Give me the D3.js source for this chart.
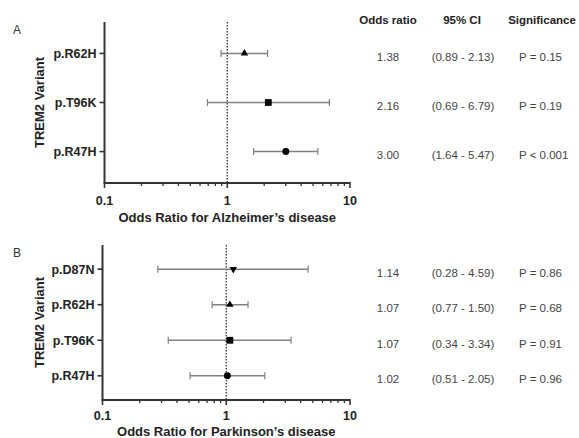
<!DOCTYPE html>
<html>
<head>
<meta charset="utf-8">
<script src="https://cdn.jsdelivr.net/npm/d3@7"></script>
<style>
  body { margin: 0; background: #fff; }
  text { font-family: "Liberation Sans", Arial, sans-serif; }
</style>
</head>
<body>
<div id="plot"></div>
<script>
// panel A - Alzheimer's
var adVariants = ["p.R62H", "p.T96K", "p.R47H"]
var adOR = [1.38, 2.16, 3.00]
var adLow = [0.89, 0.69, 1.64]
var adHigh = [2.13, 6.79, 5.47]
var adP = ["P = 0.15", "P = 0.19", "P < 0.001"]
var adShapes = ["triangle", "square", "circle"]

// panel B - Parkinson's
var pdVariants = ["p.D87N", "p.R62H", "p.T96K", "p.R47H"]
var pdOR = [1.14, 1.07, 1.07, 1.02]
var pdLow = [0.28, 0.77, 0.34, 0.51]
var pdHigh = [4.59, 1.50, 3.34, 2.05]
var pdP = ["P = 0.86", "P = 0.68", "P = 0.91", "P = 0.96"]
var pdShapes = ["triangleDown", "triangle", "square", "circle"]

var xTicks = [0.1, 1, 10]
var headers = ["Odds ratio", "95% CI", "Significance"]

var svg = d3.select("#plot").append("svg")
	.attr("width", 579)
	.attr("height", 438)

function symbolFor(name, size){
	if(name === "triangle" || name === "triangleDown") return d3.symbol().type(d3.symbolTriangle).size(size)()
	if(name === "square") return d3.symbol().type(d3.symbolSquare).size(size)()
	return d3.symbol().type(d3.symbolCircle).size(size)()
}

function drawPanel(opt){
	var g = svg.append("g")
	var x = d3.scaleLog().domain([0.1, 10]).range([opt.left, 350])
	var y = d3.scalePoint().domain(opt.variants).range([opt.top, opt.bottom]).padding(opt.pad)

	var rows = opt.variants.map(function(v, i){
		return {v: v, or: opt.or[i], lo: opt.low[i], hi: opt.high[i], p: opt.p[i], shape: opt.shapes[i]}
	})

	// panel letter
	g.append("text").attr("x", 13).attr("y", opt.top + 12)
		.style("font-size", "12px").style("fill", "#333").text(opt.letter)

	// dotted reference line at OR = 1
	g.append("line")
		.attr("x1", x(1)).attr("x2", x(1))
		.attr("y1", opt.top).attr("y2", opt.bottom)
		.style("stroke", "#222").style("stroke-width", 1.2)
		.style("stroke-dasharray", "1.5,1.5")

	// x axis with minor ticks
	var minor = []
	for(var d = 0.1; d < 10; d *= 10){
		for(var k = 2; k <= 9; k++) minor.push(+(d * k).toFixed(2))
	}
	g.append("line").attr("x1", opt.left).attr("x2", 350)
		.attr("y1", opt.bottom).attr("y2", opt.bottom)
		.style("stroke", "#333").style("stroke-width", 2)
	g.selectAll(".minor").data(minor).enter().append("line")
		.attr("x1", function(d){return x(d)}).attr("x2", function(d){return x(d)})
		.attr("y1", opt.bottom).attr("y2", opt.bottom + 3)
		.style("stroke", "#333").style("stroke-width", 1.3)
	g.selectAll(".major").data(xTicks).enter().append("line")
		.attr("x1", function(d){return x(d)}).attr("x2", function(d){return x(d)})
		.attr("y1", opt.bottom - 1).attr("y2", opt.bottom + 5)
		.style("stroke", "#333").style("stroke-width", 1.6)
	g.selectAll(".xlab").data(xTicks).enter().append("text")
		.attr("x", function(d){return x(d)}).attr("y", opt.bottom + opt.tickGap)
		.attr("text-anchor", "middle")
		.style("font-size", "12.5px").style("font-weight", "bold").style("fill", "#222")
		.text(function(d){return d})
	g.append("text").attr("x", x(1)).attr("y", opt.bottom + opt.titleGap)
		.attr("text-anchor", "middle")
		.style("font-size", "13px").style("font-weight", "bold").style("fill", "#222")
		.text(opt.title)

	// y axis
	g.append("line").attr("x1", opt.left).attr("x2", opt.left)
		.attr("y1", opt.top).attr("y2", opt.bottom + 1)
		.style("stroke", "#333").style("stroke-width", 2)
	g.selectAll(".ytick").data(opt.variants).enter().append("line")
		.attr("x1", opt.left - 5).attr("x2", opt.left)
		.attr("y1", function(d){return y(d)}).attr("y2", function(d){return y(d)})
		.style("stroke", "#333").style("stroke-width", 1.6)
	g.selectAll(".ylab").data(opt.variants).enter().append("text")
		.attr("x", opt.left - 8).attr("y", function(d){return y(d) + 4.5})
		.attr("text-anchor", "end")
		.style("font-size", "12.5px").style("font-weight", "bold").style("fill", "#222")
		.text(function(d){return d})
	g.append("text")
		.attr("transform", "translate(" + 44 + "," + ((opt.top + opt.bottom) / 2) + ") rotate(-90)")
		.attr("text-anchor", "middle")
		.style("font-size", "13px").style("font-weight", "bold").style("fill", "#222")
		.text("TREM2 Variant")

	// error bars
	var bars = g.selectAll(".bar").data(rows).enter().append("g")
	bars.append("line")
		.attr("x1", function(d){return x(d.lo)}).attr("x2", function(d){return x(d.hi)})
		.attr("y1", function(d){return y(d.v)}).attr("y2", function(d){return y(d.v)})
		.style("stroke", "#808080").style("stroke-width", 1.5)
	bars.append("line")
		.attr("x1", function(d){return x(d.lo)}).attr("x2", function(d){return x(d.lo)})
		.attr("y1", function(d){return y(d.v) - 3.5}).attr("y2", function(d){return y(d.v) + 3.5})
		.style("stroke", "#808080").style("stroke-width", 1.2)
	bars.append("line")
		.attr("x1", function(d){return x(d.hi)}).attr("x2", function(d){return x(d.hi)})
		.attr("y1", function(d){return y(d.v) - 3.5}).attr("y2", function(d){return y(d.v) + 3.5})
		.style("stroke", "#808080").style("stroke-width", 1.2)
	bars.append("path")
		.attr("d", function(d){
			var s = d.shape === "square" ? 46 : (d.shape === "circle" ? 38 : 24)
			return symbolFor(d.shape, s)
		})
		.attr("transform", function(d){
			var t = "translate(" + x(d.or) + "," + y(d.v) + ")"
			return d.shape === "triangleDown" ? t + " rotate(180)" : t
		})
		.style("fill", "#000")

	// table
	if(opt.headers){
		g.selectAll(".hdr").data(headers).enter().append("text")
			.attr("x", function(d, i){return [388, 462, 542][i]}).attr("y", 24)
			.attr("text-anchor", "middle")
			.style("font-size", "11.5px").style("font-weight", "bold").style("fill", "#222")
			.text(function(d){return d})
	}
	g.selectAll(".orv").data(rows).enter().append("text")
		.attr("x", 388).attr("y", function(d){return y(d.v) + opt.textDy})
		.attr("text-anchor", "middle")
		.style("font-size", "11.5px").style("fill", "#444")
		.text(function(d){return d.or.toFixed(2)})
	g.selectAll(".ci").data(rows).enter().append("text")
		.attr("x", 463).attr("y", function(d){return y(d.v) + opt.textDy})
		.attr("text-anchor", "middle")
		.style("font-size", "11.5px").style("fill", "#444")
		.text(function(d){return "(" + d.lo.toFixed(2) + " - " + d.hi.toFixed(2) + ")"})
	g.selectAll(".pv").data(rows).enter().append("text")
		.attr("x", 519).attr("y", function(d){return y(d.v) + opt.textDy})
		.style("font-size", "11.5px").style("fill", "#444")
		.text(function(d){return d.p})
}

drawPanel({letter: "A", variants: adVariants, or: adOR, low: adLow, high: adHigh, p: adP, shapes: adShapes,
	left: 104.5, top: 22, bottom: 183, pad: 0.64, title: "Odds Ratio for Alzheimer\u2019s disease",
	tickGap: 22, titleGap: 39, textDy: 7.5, headers: true})
drawPanel({letter: "B", variants: pdVariants, or: pdOR, low: pdLow, high: pdHigh, p: pdP, shapes: pdShapes,
	left: 102.5, top: 245, bottom: 400, pad: 0.68, title: "Odds Ratio for Parkinson\u2019s disease",
	tickGap: 20, titleGap: 36, textDy: 7.5, headers: false})
</script>
</body>
</html>
